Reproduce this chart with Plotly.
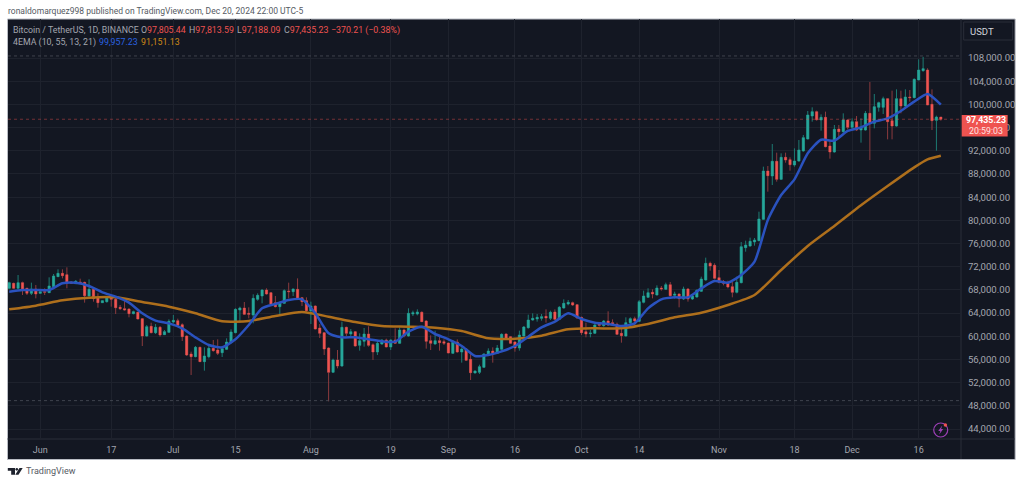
import pandas as pd
import plotly.graph_objects as go

# daily candles, 25 May 2024 to 21 Dec 2024
start_date = "2024-05-25"

opens = [
    68270,69130,68270,69245,68270,67405,68155,67405,67690,67520,
    68555,70280,70855,70625,69360,69070,69360,69300,66945,68095,
    66715,65795,65970,66660,66370,64990,64760,64700,63900,64130,
    63035,60045,61710,60620,61540,60275,60675,62460,62690,62000,
    60045,56940,56480,58090,55620,56480,57920,57630,57170,57745,
    58895,60620,64530,64875,63955,63670,66370,66945,67980,67520,
    65795,65105,65680,67805,67690,68095,66660,66140,64355,65220,
    61425,60620,57975,53780,55905,54870,61540,60390,60790,58435,
    59125,60390,58550,57285,58665,59355,58150,59355,58780,61080,
    60045,63840,63840,64130,62635,59240,58665,59240,59070,58835,
    57055,59010,57285,57800,56020,53660,53780,54640,56710,57455,
    57055,57745,60390,59930,59010,57975,60045,61480,62805,62980,
    63090,63440,63090,64185,62920,64875,65565,65795,65450,63265,
    60790,60450,60505,62055,61830,62630,62345,62055,60505,60045,
    62345,63035,62575,65855,66715,67580,67120,68325,68095,68900,
    67060,67290,66430,68150,66430,66770,67750,69705,72580,72235,
    70110,69420,69185,68555,67580,69245,75280,75570,76260,76490,
    80170,88510,87645,90175,87070,90865,90465,89540,90230,91960,
    94030,97995,98745,97305,97765,92820,91785,95750,95290,97305,
    96040,97015,95580,95580,98455,96730,99490,99490,100985,97190,
    96270,100985,99720,101270,101160,104205,105815,105930,100010,97250,
    97805.44,
]
highs = [
    69415,69245,70570,69415,68380,69245,68840,67750,68270,70165,
    70740,71545,71545,71890,69475,69705,69935,69415,69820,68270,
    67405,66200,66830,67115,66830,65395,66255,64820,64415,64245,
    63150,61945,62345,62115,61770,61080,62920,63670,63035,62230,
    60160,57345,58320,58205,58090,58320,59355,59470,57975,59645,
    61195,64820,65105,65910,64990,67230,67405,68095,68270,67635,
    66945,65970,68095,69245,68210,69990,66715,66715,65970,65335,
    62115,60735,58090,56135,57630,62520,61655,61250,60905,60505,
    61425,61710,58780,59240,59470,59585,59470,61365,61540,61310,
    64820,64415,64645,64300,62805,60160,60965,59930,59470,58895,
    59355,59470,58090,57975,56940,54120,55100,57055,57920,58090,
    58490,60505,60505,60045,59125,60965,61770,63725,63955,63840,
    63840,64645,64415,64645,65220,66370,66255,65970,65565,63380,
    62345,61080,62115,62345,62805,64300,62920,62345,61770,63265,
    63265,63380,66255,67865,68270,68095,68785,68670,69245,69360,
    67690,67405,68555,68325,67120,68095,70280,73560,72870,72580,
    71430,69705,69590,69360,70280,76260,76490,77010,76950,81490,
    89255,89370,93165,91670,91555,91670,90865,92415,93855,94720,
    98860,99490,98915,98280,98745,93740,96440,96440,98455,97480,
    97590,97995,97590,98860,103860,101790,100470,101330,101040,102365,
    102595,102365,102595,102480,104490,107770,108200,106220,102595,98050,
    97813.59,
]
lows = [
    68095,68155,68095,67115,67115,67115,66540,67290,67115,67520,
    68270,70280,69990,68270,69015,69015,69015,65795,66830,65970,
    64930,65740,65795,65105,63840,64530,64415,63265,63785,62920,
    58320,59930,60505,60390,59930,60215,60620,62230,61770,59180,
    56595,53320,56365,55560,54065,56190,57340,56770,56420,57630,
    58780,60505,62345,63670,63095,62230,66140,65680,67175,65335,
    64990,63670,65565,66540,66945,66370,65220,64245,62115,61195,
    59700,56770,48775,53720,54465,54755,60045,60045,58205,57515,
    58205,58205,55905,56770,58550,58090,57630,58665,58665,59815,
    59930,63495,63610,62460,57860,57630,58550,57515,58490,57055,
    56940,57170,55445,55790,52455,53605,53490,54525,56595,55445,
    56940,57515,59355,58665,57340,57515,59930,61310,62690,62520,
    62690,62345,62805,62805,62805,64760,65335,65220,63035,60220,
    59815,59815,60390,61655,61655,61770,61770,60220,58895,59930,
    62115,61885,62460,65680,66600,66540,67060,67865,67980,66830,
    66485,64990,66255,65970,66255,66660,67635,69590,71315,69820,
    69130,68785,68265,66715,67405,69130,74590,75455,75630,76375,
    80055,84940,86090,86670,86955,89945,88565,89255,90115,91840,
    93970,97015,97190,95465,92590,90635,91670,94430,95120,95695,
    95580,95410,93395,95465,90405,95865,98745,98340,93970,93970,
    96155,98455,99605,100470,101040,104205,105640,99890,95580,92015,
    97188.09,
]
closes = [
    69245,68270,69245,68095,67405,68155,67290,67690,67580,68670,
    70395,70855,70450,69130,69130,69475,69130,67000,68095,66485,
    65795,66140,66660,66370,64930,64760,64530,63900,64245,62980,
    60045,61655,60620,61540,60215,60790,62575,62745,61885,59930,
    56770,56480,58090,55620,56595,57920,57515,57055,57860,59010,
    60735,64645,64875,63785,63785,66540,67060,67980,67290,65565,
    65105,65680,67865,67690,68155,66485,65970,64415,65220,61250,
    60505,57800,53780,55905,54870,61540,60505,60790,58320,59240,
    60390,58435,57285,58780,59355,58150,59355,58780,61080,60045,
    63955,64070,64185,62520,59125,58780,59240,58895,58780,57110,
    58950,57285,57800,55850,53720,54005,54755,56940,57455,57110,
    57975,60330,59585,58780,57975,60220,61600,62805,63090,63265,
    63380,63150,64130,62920,64990,65680,65855,65390,63150,60620,
    60390,60560,61945,61885,62630,61945,62000,60330,60100,62345,
    63035,62630,65970,66945,67520,67290,68325,68150,68900,67000,
    67290,66485,68150,66430,66945,67925,69880,72580,72120,69990,
    69300,69130,68500,67580,69300,75455,75740,76375,76605,80225,
    88510,87700,90175,87070,90865,90405,89600,90230,92130,94260,
    98170,98745,97360,97765,92705,91785,95695,95290,97305,96040,
    97015,95580,96040,98455,96730,99605,100295,100985,97015,96270,
    100985,99720,101270,101160,104320,105930,106160,99890,97190,97805,
    97435.23,
]

# EMAs, read every few bars; the bar numbers say which
ema_blue_bars = [
    0,3,6,9,12,15,18,21,24,27,30,33,36,39,42,45,48,51,54,57,60,63,66,69,72,75,78,
    81,84,87,90,93,96,99,102,105,108,111,114,117,120,123,126,129,132,135,138,141,
    144,147,150,153,156,159,162,165,168,171,174,177,180,183,186,189,192,195,198,
    201,204,207,210,
]
ema_blue = [
    67690,67980,67980,67980,69130,69245,68670,67580,66830,65795,
    63955,62690,62230,61365,59815,58490,58090,59470,61945,64820,
    65565,66255,66370,63955,60505,59815,59815,59470,59125,59070,
    60790,61655,60390,59470,58320,56595,56770,57400,58320,59930,
    61540,62520,63955,62980,62345,62115,61770,62230,64820,66370,
    66715,66715,68265,69535,69245,70570,72870,80055,84370,87070,
    91555,93900,93740,95410,96040,97015,97590,98860,100470,101800,
    99957.23,
]
ema_orange_bars = [
    0,6,12,18,24,30,36,42,48,54,60,66,72,78,84,90,96,102,108,114,
    120,126,132,138,144,150,156,162,168,174,180,186,192,198,204,207,210,
]
ema_orange = [
    64645,65280,66200,66660,66715,65910,65105,63955,62575,62630,
    63495,64185,63380,62460,61770,61655,61480,60905,59645,59585,
    60100,61195,61370,61370,62115,63265,64070,65390,67120,71430,
    75570,79020,82600,85920,89140,90520,91151.13,
]

price_ticks = [44000,48000,52000,56000,60000,64000,68000,72000,76000,80000,
               84000,88000,92000,96000,100000,104000,108000]
date_ticks = ["2024-06-01","2024-06-17","2024-07-01","2024-07-15","2024-08-01",
              "2024-08-19","2024-09-01","2024-09-16","2024-10-01","2024-10-14",
              "2024-11-01","2024-11-18","2024-12-01","2024-12-16"]
date_labels = ["Jun","17","Jul","15","Aug","19","Sep","16","Oct","14","Nov","18","Dec","16"]

last_price = 97435.23
high_line = 108353
low_line = 48900

assert len(opens) == len(highs) == len(lows) == len(closes) == 211
assert len(ema_blue) == len(ema_blue_bars) and len(ema_orange) == len(ema_orange_bars)

dates = pd.date_range(start_date, periods=len(opens))

BG = "#131722"
GRID = "#1e222d"
TEXT = "#a3a6af"
UP = "#26a69a"
DOWN = "#ef5350"
UP_WICK = "#1d7b73"
DOWN_WICK = "#8c3b3e"
BLUE = "#2a52bf"
ORANGE = "#ae6f1c"
FONT = "Roboto"

# plot box in page pixels
L, R, T, B = 7.5, 961.3, 19, 439


def px(x):
    return (x - L) / (R - L)


def py(y):
    return (B - y) / (B - T)


fig = go.Figure()

# wicks and thin edge first, bright bodies over them
fig.add_trace(go.Candlestick(
    x=dates, open=opens, high=highs, low=lows, close=closes,
    increasing=dict(line=dict(color=UP_WICK, width=1), fillcolor=UP),
    decreasing=dict(line=dict(color=DOWN_WICK, width=1), fillcolor=DOWN),
    hoverinfo="skip", showlegend=False))
fig.add_trace(go.Candlestick(
    x=dates, open=opens, close=closes,
    high=[max(a, b) for a, b in zip(opens, closes)],
    low=[min(a, b) for a, b in zip(opens, closes)],
    increasing=dict(line=dict(color=UP, width=0), fillcolor=UP),
    decreasing=dict(line=dict(color=DOWN, width=0), fillcolor=DOWN),
    hoverinfo="skip", showlegend=False))

fig.add_trace(go.Scatter(x=dates[ema_orange_bars], y=ema_orange, mode="lines",
                         line=dict(color=ORANGE, width=2.5, shape="spline", smoothing=0.6),
                         hoverinfo="skip", showlegend=False))
fig.add_trace(go.Scatter(x=dates[ema_blue_bars], y=ema_blue, mode="lines",
                         line=dict(color=BLUE, width=2.5, shape="spline", smoothing=0.6),
                         hoverinfo="skip", showlegend=False))

shapes = [
    # dark panel behind chart and both axes
    dict(type="rect", xref="paper", yref="paper", x0=px(7), x1=px(1015.5), y0=py(459.5), y1=py(19),
         fillcolor=BG, line=dict(color="#b9bcc4", width=1), layer="below"),
    dict(type="line", xref="paper", yref="paper", x0=px(R), x1=px(R), y0=py(459), y1=py(19),
         line=dict(color="#2a2e39", width=1), layer="below"),
    dict(type="line", xref="paper", yref="paper", x0=px(7), x1=px(1015), y0=py(B), y1=py(B),
         line=dict(color="#2a2e39", width=1), layer="below"),
    # last price, high and low lines
    dict(type="line", xref="paper", yref="y", x0=0, x1=1, y0=last_price, y1=last_price,
         line=dict(color=DOWN, width=0.8, dash="dot"), opacity=0.55),
    dict(type="line", xref="paper", yref="y", x0=0, x1=1, y0=high_line, y1=high_line,
         line=dict(color="#4a4e58", width=0.8, dash="dot")),
    dict(type="line", xref="paper", yref="y", x0=0, x1=1, y0=low_line, y1=low_line,
         line=dict(color="#4a4e58", width=0.8, dash="dot")),
    # USDT button
    dict(type="rect", xref="paper", yref="paper", x0=px(964), x1=px(1013), y0=py(40), y1=py(22),
         fillcolor=BG, line=dict(color="#2a2e39", width=1)),
    # price tag
    dict(type="rect", xref="paper", yref="paper", x0=px(962), x1=px(1008), y0=py(136.5), y1=py(115),
         fillcolor=DOWN, line=dict(width=0)),
    # purple bolt badge
    dict(type="circle", xref="paper", yref="paper", x0=px(934), x1=px(948), y0=py(437), y1=py(423),
         line=dict(color="#9c3fb5", width=1.2)),
    dict(type="path", xref="paper", yref="paper", fillcolor="#9c3fb5", line=dict(width=0),
         path=f"M {px(942.5)} {py(425.5)} L {px(938.5)} {py(431)} L {px(940.6)} {py(431)} "
              f"L {px(939.5)} {py(434.5)} L {px(943.5)} {py(429)} L {px(941.4)} {py(429)} Z"),
    dict(type="circle", xref="paper", yref="paper", x0=px(944), x1=px(947.4), y0=py(426.7), y1=py(423.3),
         fillcolor=DOWN, line=dict(width=0)),
    # TradingView mark
    dict(type="path", xref="paper", yref="paper", fillcolor="#1e222d", line=dict(width=0),
         path=f"M {px(7.3)} {py(468)} L {px(14.5)} {py(468)} L {px(14.5)} {py(474.7)} L {px(10.7)} {py(474.7)} "
              f"L {px(10.7)} {py(470.7)} L {px(7.3)} {py(470.7)} Z"),
    dict(type="path", xref="paper", yref="paper", fillcolor="#1e222d", line=dict(width=0),
         path=f"M {px(19)} {py(468)} L {px(22.2)} {py(468)} L {px(18)} {py(474.7)} L {px(14.8)} {py(474.7)} Z"),
    dict(type="circle", xref="paper", yref="paper", x0=px(15), x1=px(17.6), y0=py(470.7), y1=py(468),
         fillcolor="#1e222d", line=dict(width=0)),
]


def label(x, y, text, color=TEXT, size=8.8, anchor="left", family=FONT):
    fig.add_annotation(xref="paper", yref="paper", x=px(x), y=py(y), text=text, showarrow=False,
                       xanchor=anchor, yanchor="middle", align=anchor,
                       font=dict(family=family, size=size, color=color))


label(5.5, 11, "ronaldomarquez998 published on TradingView.com, Dec 20, 2024 22:00 UTC-5",
      color="#555a63", size=8.5)
label(11, 30, "Bitcoin / TetherUS, 1D, BINANCE", size=8.8)
for x, letter, value in [(139, "O", "97,805.44"), (187, "H", "97,813.59"),
                         (235, "L", "97,188.09"), (282, "C", "97,435.23")]:
    label(x, 30, f"{letter}<span style='color:{DOWN}'>{value}</span>", size=8.8)
label(329, 30, "−370.21 (−0.38%)", color=DOWN, size=8.8)
label(11, 42, "4EMA (10, 55, 13, 21)", size=8.8)
label(97, 42, "99,957.23", color="#2a62e0", size=8.8)
label(139, 42, "91,151.13", color="#d08a17", size=8.8)
label(968, 31, "USDT", color="#d1d4dc", size=9.5)
# both lines of the tag in one text, the clock a little fainter
label(986, 125.5, "<b>97,435.23</b><br><span style='color:#ffe3e3'>20:59:03</span>",
      color="#ffffff", size=8.8, anchor="center")
label(23.5, 471, "TradingView", color="#555a63", size=9)

fig.update_layout(
    width=1023, height=484, autosize=False,
    margin=dict(l=L, r=1023 - R, t=T, b=484 - B),
    paper_bgcolor="#ffffff", plot_bgcolor="rgba(0,0,0,0)",
    shapes=shapes, boxgap=0.3, showlegend=False,
    font=dict(family=FONT, size=9, color=TEXT),
    xaxis=dict(type="date", range=["2024-05-24 17:30", "2024-12-25 13:00"],
               rangeslider=dict(visible=False),
               tickmode="array", tickvals=date_ticks, ticktext=date_labels,
               showgrid=True, gridcolor=GRID, gridwidth=1, zeroline=False,
               ticks="outside", ticklen=2, tickcolor="rgba(0,0,0,0)",
               tickfont=dict(family=FONT, size=9, color=TEXT)),
    yaxis=dict(side="right", range=[42278, 114727],
               tickmode="array", tickvals=price_ticks, tickformat=",.2f",
               showgrid=True, gridcolor=GRID, gridwidth=1, zeroline=False,
               ticks="outside", ticklen=4, tickcolor="rgba(0,0,0,0)",
               tickfont=dict(family=FONT, size=9.6, color=TEXT)),
)

fig.write_html("out.html", config={"displayModeBar": False},
               post_script="document.body.style.margin='0';")
